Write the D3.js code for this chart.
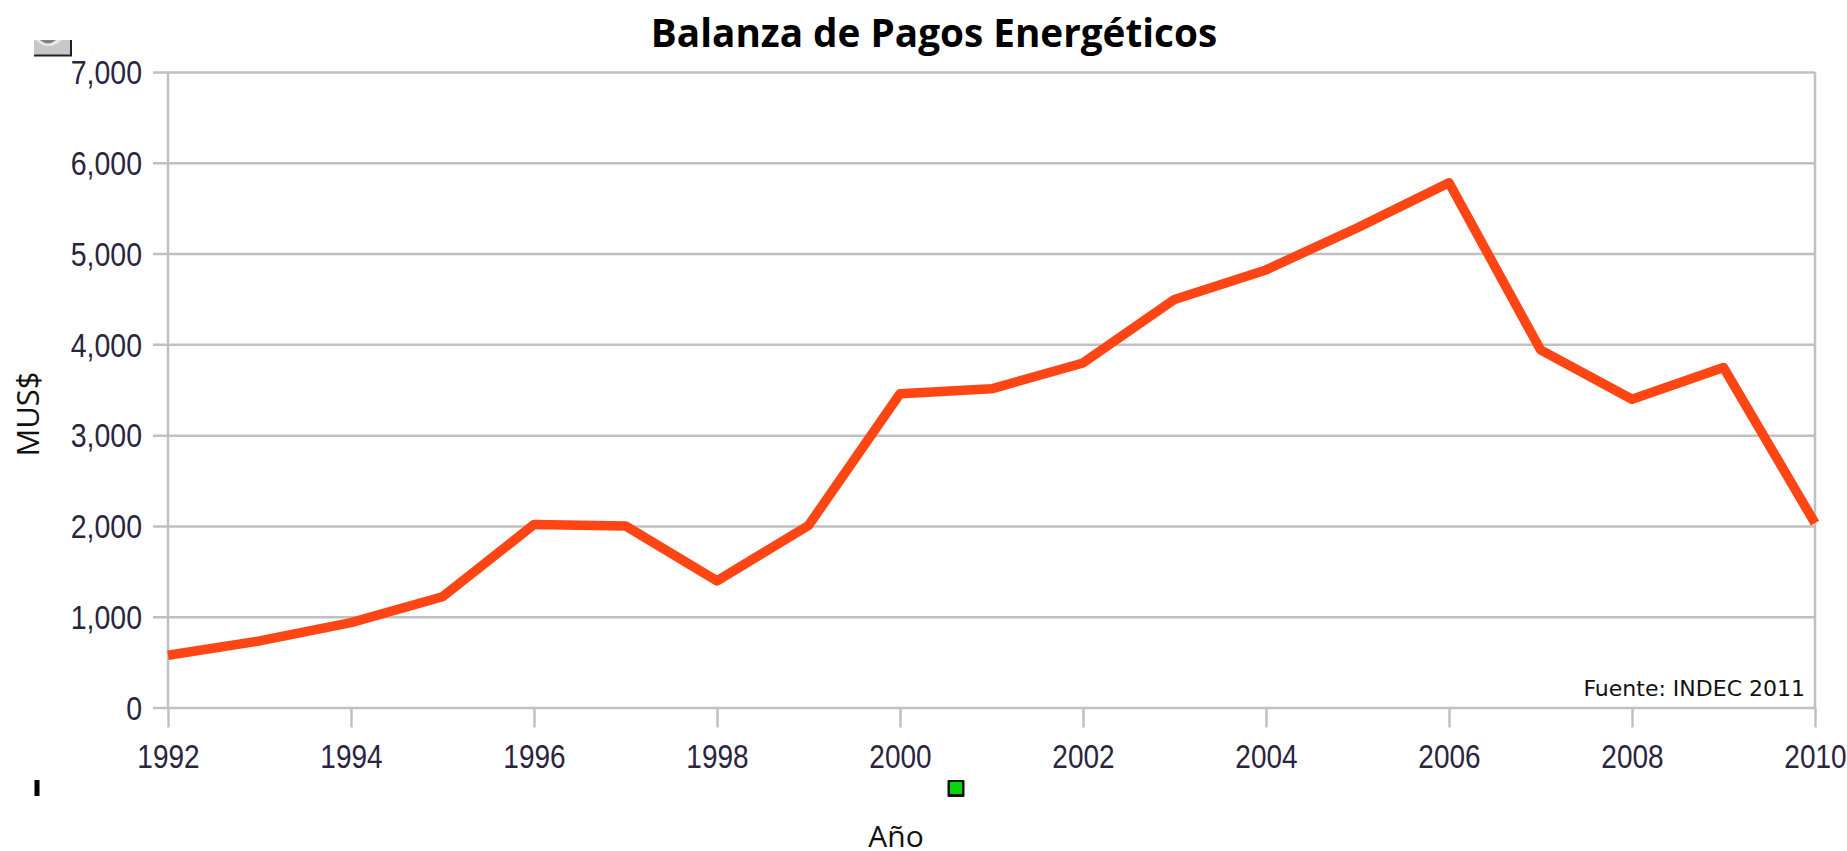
<!DOCTYPE html>
<html><head><meta charset="utf-8">
<script src="https://cdnjs.cloudflare.com/ajax/libs/d3/7.8.5/d3.min.js"></script>
<style>html,body{margin:0;padding:0;background:#fff}svg{display:block}</style>
</head><body><svg id="c" width="1847" height="851"></svg>
<script>
const years=[1992,1993,1994,1995,1996,1997,1998,1999,2000,2001,2002,2003,2004,2005,2006,2007,2008,2009,2010];
const balance=[575,733,935,1220,2015,2000,1395,2005,3455,3510,3795,4495,4820,5285,5780,3940,3395,3745,2030];
const yTicks=[0,1000,2000,3000,4000,5000,6000,7000];
const xTicks=[1992,1994,1996,1998,2000,2002,2004,2006,2008,2010];
const titleText="Balanza de Pagos Energéticos",xTitle="Año",yTitle="MUS$",source="Fuente: INDEC 2011";

const svg=d3.select("#c");
const x=d3.scaleLinear().domain([1992,2010]).range([168,1815]);
const y=d3.scaleLinear().domain([0,7000]).range([707.5,72]);
const grid="#c0c0c0",tickCol="#2a2440",tf="'Liberation Sans',Arial,sans-serif";

const ya=svg.append("g").attr("transform","translate(168,0)")
 .call(d3.axisLeft(y).tickValues(yTicks).tickFormat(d3.format(",")).tickSize(0).tickPadding(26));
ya.select(".domain").remove();
ya.selectAll("line").attr("x1",-15).attr("x2",1647).attr("stroke",grid).attr("stroke-width",2.5);
ya.selectAll("text").attr("fill",tickCol).attr("font-family",tf).attr("font-size",28.5)
 .attr("dy",null).attr("y",10).attr("transform","scale(1,1.18)");

const xa=svg.append("g").attr("transform","translate(0,707.5)")
 .call(d3.axisBottom(x).tickValues(xTicks).tickFormat(d3.format("d")).tickSize(20).tickPadding(11));
xa.select(".domain").remove();
xa.selectAll("line").attr("stroke",grid).attr("stroke-width",2.5);
xa.selectAll("text").attr("fill",tickCol).attr("font-family",tf).attr("font-size",28)
 .attr("dy",null).attr("y",51).attr("transform","scale(1,1.18)");

[[168],[1815]].forEach(([px])=>svg.append("line").attr("x1",px).attr("x2",px).attr("y1",72).attr("y2",708).attr("stroke",grid).attr("stroke-width",2.5));

svg.append("path").datum(years.map((d,i)=>[d,balance[i]]))
 .attr("d",d3.line().x(d=>x(d[0])).y(d=>y(d[1])))
 .attr("fill","none").attr("stroke","#ff4513").attr("stroke-width",9.5).attr("stroke-linejoin","round");

svg.append("text").attr("x",934).attr("y",47).attr("text-anchor","middle").attr("font-family","'Open Sans','Noto Sans',sans-serif")
 .attr("font-weight",700).attr("font-size",38.7).attr("fill","#000").text(titleText);
svg.append("text").attr("x",896).attr("y",847).attr("text-anchor","middle").attr("font-family","'Open Sans',sans-serif").attr("font-size",30).attr("fill","#111").text(xTitle);
svg.append("text").attr("transform","translate(39,414) rotate(-90)").attr("text-anchor","middle").attr("font-family","'Open Sans',sans-serif").attr("font-size",31).attr("fill","#111").text(yTitle);
svg.append("text").attr("x",1805).attr("y",696).attr("text-anchor","end").attr("font-family","'DejaVu Sans',Verdana,sans-serif").attr("font-size",22).attr("fill","#111").text(source);

// small stray icons from the original screenshot
const ic=svg.append("g");
ic.append("rect").attr("x",34).attr("y",40).attr("width",37).attr("height",15).attr("fill","#c8c8c8");
ic.append("path").attr("d","M36 40 Q48 52 62 40Z").attr("fill","#e8e8e8");
ic.append("path").attr("d","M40 40 Q48 47 56 40Z").attr("fill","#808080");
ic.append("path").attr("d","M34 55.5H71V40").attr("fill","none").attr("stroke","#222").attr("stroke-width",2);
ic.append("rect").attr("x",34.5).attr("y",780).attr("width",5).attr("height",16).attr("fill","#000");
ic.append("rect").attr("x",947.5).attr("y",780).attr("width",17).attr("height",17).attr("fill","#111").attr("rx",1);
ic.append("rect").attr("x",950).attr("y",782).attr("width",12).attr("height",12).attr("fill","#0bd60b");
</script></body></html>
